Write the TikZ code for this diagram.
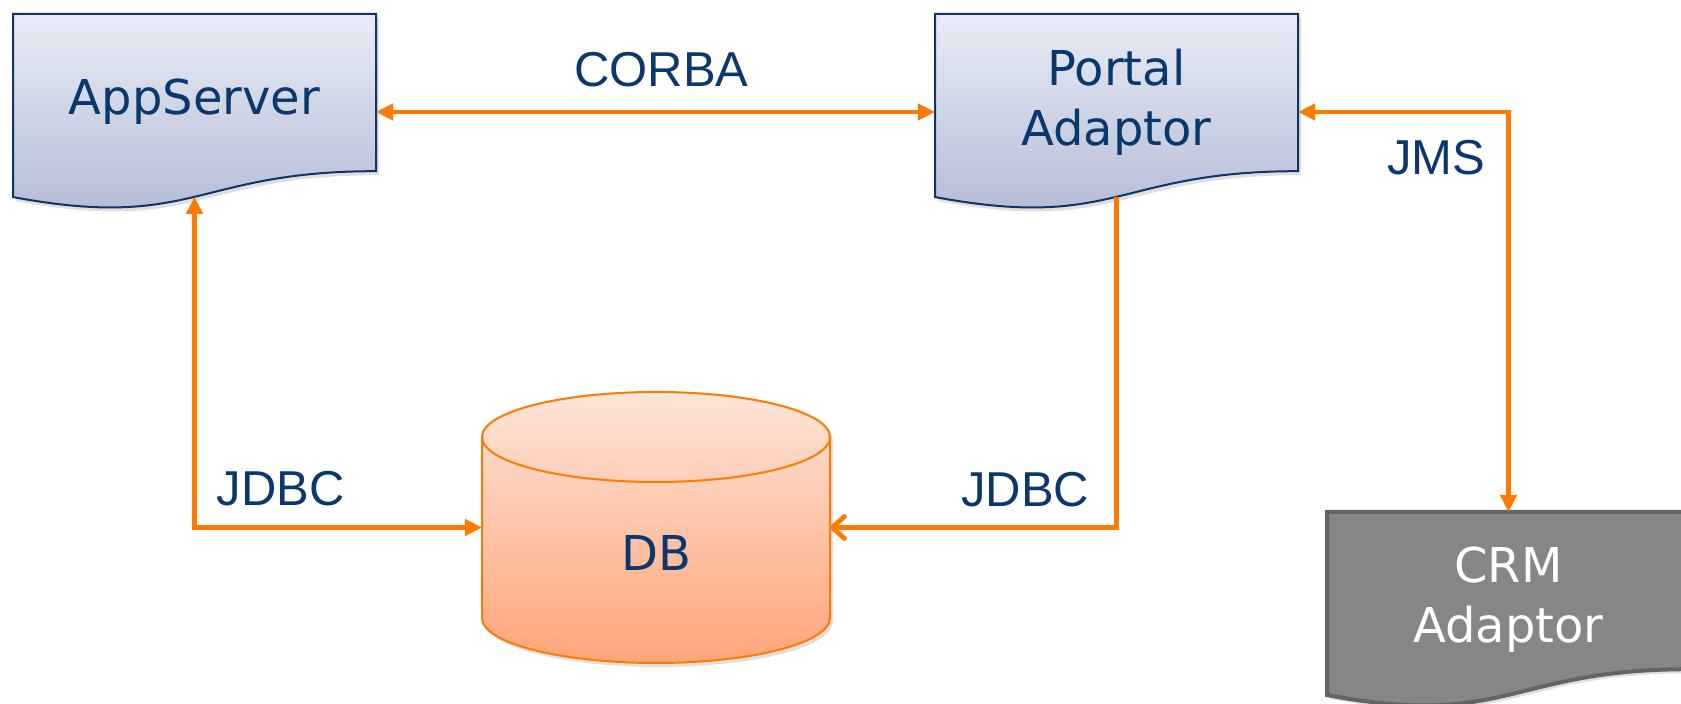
\documentclass[tikz,border=0pt]{standalone}
\usepackage{fontspec}
\setmainfont{DejaVu Sans}
\newfontfamily\lblfont{Liberation Sans}
\usepackage{tikz}
\usetikzlibrary{calc,positioning,arrows.meta,backgrounds,shadows}
\definecolor{ORG}{RGB}{255,122,0}
\definecolor{TXB}{RGB}{10,56,110}
\definecolor{BRB}{RGB}{16,52,100}
\definecolor{DTP}{RGB}{233,236,245}
\definecolor{DBT}{RGB}{176,185,213}
\definecolor{GRF}{RGB}{134,134,134}
\definecolor{GRB}{RGB}{100,100,100}
\definecolor{CTP}{RGB}{253,228,216}
\definecolor{CBT}{RGB}{255,165,120}
\tikzset{
    TRI/.tip={Triangle[length=8.5pt,width=8pt]},
    BAR/.tip={Straight Barb[length=6pt,width=11pt,round]},
    BX/.style ={rectangle,minimum width=181.5pt,minimum height=98pt,inner sep=0pt,outer sep=0pt},
    CB/.style ={rectangle,minimum width=174pt,minimum height=135.5pt,inner sep=0pt,outer sep=0pt},
    TX1/.style={font=\fontsize{24}{30}\selectfont,text=TXB,align=center,yshift=5pt},
    TX2/.style={font=\fontsize{24}{30}\selectfont,text=white,align=center,yshift=5pt},
    SH/.style ={drop shadow={opacity=.25,shadow xshift=1.5pt,shadow yshift=-2pt}},
    DO1/.style={draw=BRB,line width=1pt,top color=DTP,bottom color=DBT,SH},
    DO2/.style={draw=GRB,line width=2pt,fill=GRF,SH},
    CY/.style ={draw=ORG,line width=1pt,top color=CTP,bottom color=CBT,SH},
    AR/.style ={draw=ORG,line width=2.4pt},
    LB/.style ={font=\lblfont\fontsize{24.5}{30}\selectfont,text=TXB,inner sep=0pt}
}

\begin{document}
\begin{tikzpicture}[x=0.5pt,y=0.5pt]
    \useasboundingbox (0,0) rectangle (1681,704);
    % boxes
    \node[BX,label={[TX1]center:AppServer}] (app) at (194.5,592) {};
    \node[BX,label={[TX1]center:Portal\\Adaptor}] (portal) at (1116.5,592) {};
    \node[BX,label={[TX2]center:CRM\\Adaptor}] (crm) at (1508.5,94) {};
    \node[CB,label={[TX1,yshift=-18pt]center:DB}] (db) at (656,176.5) {};
    \begin{pgfonlayer}{background}
        \foreach \n/\s in {app/DO1,portal/DO1,crm/DO2}{
            \draw[\s] (\n.north west) -- (\n.north east) -- ($(\n.north east)!.802!(\n.south east)$)
                ..controls ($(\n.north)!.802!(\n.south)$) and ($(\n.north)!1.107!(\n.south)$)..
                ($(\n.north west)!.934!(\n.south west)$) -- cycle;
            \coordinate (\n-wave) at ($(\n.north)!.933!(\n.south)$);}
        \draw[CY] ($(db.north west)+(0,-45)$) -- ($(db.south west)+(0,45)$)
            arc[start angle=180,end angle=360,x radius=87pt,y radius=22.5pt]
            -- ($(db.north east)+(0,-45)$)
            arc[start angle=0,end angle=180,x radius=87pt,y radius=22.5pt] -- cycle;
        \draw[draw=ORG,line width=1pt] ($(db.north west)+(0,-45)$)
            arc[start angle=180,end angle=360,x radius=87pt,y radius=22.5pt];
    \end{pgfonlayer}
    % links
    \draw[AR,TRI-TRI] (app) -- node[LB,xshift=3pt,yshift=21pt]{CORBA} (portal);
    \draw[AR,TRI-TRI] (portal) -| node[LB,pos=.557,left=10.5pt]{JMS} (crm);
    \draw[AR,TRI-TRI] (app-wave) |- node[LB,pos=.5,above right=9.5pt and 10pt]{JDBC} (db);
    \draw[AR,-BAR] (portal-wave) |- node[LB,pos=.5,above left=9pt and 12.5pt]{JDBC} (db);
\end{tikzpicture}
\end{document}
